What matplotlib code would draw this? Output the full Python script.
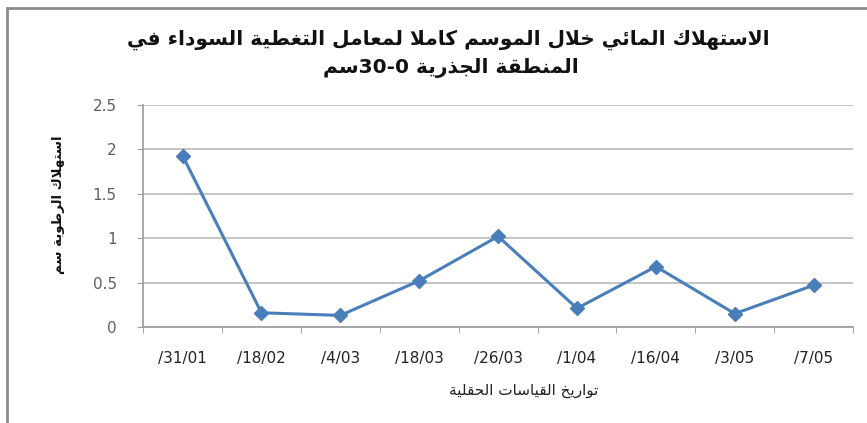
import re
import matplotlib
matplotlib.use("Agg")
import matplotlib.pyplot as plt
from matplotlib.patches import Rectangle

# ---------------------------
# Data
# ---------------------------
dates = ["/31/01", "/18/02", "/4/03", "/18/03", "/26/03", "/1/04", "/16/04", "/3/05", "/7/05"]
water_use = [1.93, 0.16, 0.13, 0.52, 1.02, 0.21, 0.68, 0.15, 0.47]
y_ticks = [0, 0.5, 1, 1.5, 2, 2.5]

title_line1 = "الاستهلاك المائي خلال الموسم كاملا لمعامل التغطية السوداء في"
title_line2 = "المنطقة الجذرية 0-30سم"
x_title = "تواريخ القياسات الحقلية"
y_title = "استهلاك الرطوبة سم"

# ---------------------------
# Minimal Arabic shaping + right-to-left order (matplotlib does neither)
# ---------------------------
# isolated, final, initial, medial
FORMS = {
    "ء": (0xFE80, None, None, None),
    "آ": (0xFE81, 0xFE82, None, None),
    "أ": (0xFE83, 0xFE84, None, None),
    "إ": (0xFE87, 0xFE88, None, None),
    "ئ": (0xFE89, 0xFE8A, 0xFE8B, 0xFE8C),
    "ا": (0xFE8D, 0xFE8E, None, None),
    "ب": (0xFE8F, 0xFE90, 0xFE91, 0xFE92),
    "ة": (0xFE93, 0xFE94, None, None),
    "ت": (0xFE95, 0xFE96, 0xFE97, 0xFE98),
    "ث": (0xFE99, 0xFE9A, 0xFE9B, 0xFE9C),
    "ج": (0xFE9D, 0xFE9E, 0xFE9F, 0xFEA0),
    "ح": (0xFEA1, 0xFEA2, 0xFEA3, 0xFEA4),
    "خ": (0xFEA5, 0xFEA6, 0xFEA7, 0xFEA8),
    "د": (0xFEA9, 0xFEAA, None, None),
    "ذ": (0xFEAB, 0xFEAC, None, None),
    "ر": (0xFEAD, 0xFEAE, None, None),
    "ز": (0xFEAF, 0xFEB0, None, None),
    "س": (0xFEB1, 0xFEB2, 0xFEB3, 0xFEB4),
    "ش": (0xFEB5, 0xFEB6, 0xFEB7, 0xFEB8),
    "ص": (0xFEB9, 0xFEBA, 0xFEBB, 0xFEBC),
    "ض": (0xFEBD, 0xFEBE, 0xFEBF, 0xFEC0),
    "ط": (0xFEC1, 0xFEC2, 0xFEC3, 0xFEC4),
    "ظ": (0xFEC5, 0xFEC6, 0xFEC7, 0xFEC8),
    "ع": (0xFEC9, 0xFECA, 0xFECB, 0xFECC),
    "غ": (0xFECD, 0xFECE, 0xFECF, 0xFED0),
    "ف": (0xFED1, 0xFED2, 0xFED3, 0xFED4),
    "ق": (0xFED5, 0xFED6, 0xFED7, 0xFED8),
    "ك": (0xFED9, 0xFEDA, 0xFEDB, 0xFEDC),
    "ل": (0xFEDD, 0xFEDE, 0xFEDF, 0xFEE0),
    "م": (0xFEE1, 0xFEE2, 0xFEE3, 0xFEE4),
    "ن": (0xFEE5, 0xFEE6, 0xFEE7, 0xFEE8),
    "ه": (0xFEE9, 0xFEEA, 0xFEEB, 0xFEEC),
    "و": (0xFEED, 0xFEEE, None, None),
    "ى": (0xFEEF, 0xFEF0, None, None),
    "ي": (0xFEF1, 0xFEF2, 0xFEF3, 0xFEF4),
}
LAM_ALEF = {"آ": (0xFEF5, 0xFEF6), "أ": (0xFEF7, 0xFEF8),
            "إ": (0xFEF9, 0xFEFA), "ا": (0xFEFB, 0xFEFC)}


def joins_next(u):
    return isinstance(u, str) and u in FORMS and FORMS[u][2] is not None


def joins_prev(u):
    return not isinstance(u, str) or (u in FORMS and FORMS[u][1] is not None)


def shape(text):
    units = []
    i = 0
    while i < len(text):
        if text[i] == "ل" and i + 1 < len(text) and text[i + 1] in LAM_ALEF:
            units.append(("LA", text[i + 1]))
            i += 2
        else:
            units.append(text[i])
            i += 1
    out = []
    for k, u in enumerate(units):
        p = k > 0 and joins_next(units[k - 1]) and joins_prev(u)
        n = k < len(units) - 1 and joins_next(u) and joins_prev(units[k + 1])
        if not isinstance(u, str):
            iso, fin = LAM_ALEF[u[1]]
            out.append(chr(fin if p else iso))
        elif u in FORMS:
            f = FORMS[u]
            code = f[3] if (p and n) else f[1] if p else f[2] if n else f[0]
            out.append(chr(code))
        else:
            out.append(u)
    return "".join(out)


def ar(text):
    # shape, reverse for right-to-left display, keep digit runs left-to-right
    vis = shape(text)[::-1]
    return re.sub(r"[0-9]+", lambda m: m.group(0)[::-1], vis)


# ---------------------------
# Plot
# ---------------------------
plt.rcParams["font.family"] = ["DejaVu Sans"]

fig = plt.figure(figsize=(8.67, 4.23), dpi=100)
ax = fig.add_axes([0.165, 0.227, 0.819, 0.525])

x = list(range(len(dates)))
ax.plot(x, water_use, color="#4a7ebb", linewidth=2.2, marker="D",
        markersize=7, markerfacecolor="#4a7ebb", markeredgecolor="#4a7ebb")

ax.set_xlim(-0.5, len(dates) - 0.5)
ax.set_ylim(0, 2.5)
ax.set_yticks(y_ticks)
ax.set_yticklabels([f"{v:g}" for v in y_ticks])
ax.set_xticks(x)
ax.set_xticklabels(dates)
ax.set_xticks([i - 0.5 for i in range(len(dates) + 1)], minor=True)

ax.grid(axis="y", color="#bfbfbf", linewidth=1.3)
ax.set_axisbelow(True)
for s in ["top", "right"]:
    ax.spines[s].set_visible(False)
for s in ["left", "bottom"]:
    ax.spines[s].set_color("#9a9a9a")
    ax.spines[s].set_linewidth(1.2)

ax.tick_params(axis="y", length=4, color="#9a9a9a", pad=15, labelsize=11, labelcolor="#606060")
ax.tick_params(axis="x", which="major", length=0, pad=17, labelsize=11, labelcolor="#222222")
ax.tick_params(axis="x", which="minor", length=4, color="#9a9a9a")

fig.text(0.517, 0.905, ar(title_line1), ha="center", va="center",
         fontsize=14.5, fontweight="bold", color="#111111")
fig.text(0.52, 0.84, ar(title_line2), ha="center", va="center",
         fontsize=14.5, fontweight="bold", color="#111111")
fig.text(0.604, 0.078, ar(x_title), ha="center", va="center",
         fontsize=11, color="#222222")
fig.text(0.067, 0.515, ar(y_title), ha="center", va="center",
         rotation=90, fontsize=9.5, fontweight="bold", color="#111111")

# outer chart border (cut off on the right and bottom like the screenshot)
fig.patches.append(Rectangle((7 / 867, -0.1), 1.2, 1 - 8 / 423 + 0.1,
                             transform=fig.transFigure, fill=False,
                             edgecolor="#8c8c8c", linewidth=2))

fig.savefig("out.png", dpi=100)
